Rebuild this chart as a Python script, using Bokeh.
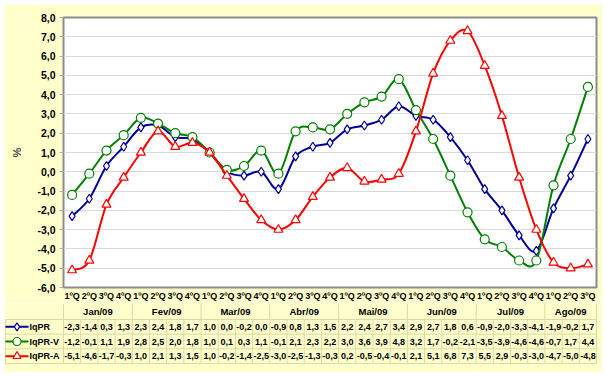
from bokeh.plotting import figure
from bokeh.models import Range1d, FixedTicker, ColumnDataSource
from bokeh.layouts import column
from bokeh.embed import file_html
from bokeh.resources import INLINE
from bokeh.core.properties import value

months = ["Jan/09", "Fev/09", "Mar/09", "Abr/09", "Mai/09", "Jun/09", "Jul/09", "Ago/09"]
quarters = ["1ºQ", "2ºQ", "3ºQ", "4ºQ"]
periods = [(m, q) for m in months for q in quarters][:31]

series_names = ["IqPR", "IqPR-V", "IqPR-A"]
iqpr = [-2.3, -1.4, 0.3, 1.3, 2.3, 2.4, 1.8, 1.7, 1.0, 0.0, -0.2, 0.0, -0.9, 0.8, 1.3, 1.5,
        2.2, 2.4, 2.7, 3.4, 2.9, 2.7, 1.8, 0.6, -0.9, -2.0, -3.3, -4.1, -1.9, -0.2, 1.7]
iqpr_v = [-1.2, -0.1, 1.1, 1.9, 2.8, 2.5, 2.0, 1.8, 1.0, 0.1, 0.3, 1.1, -0.1, 2.1, 2.3, 2.2,
          3.0, 3.6, 3.9, 4.8, 3.2, 1.7, -0.2, -2.1, -3.5, -3.9, -4.6, -4.6, -0.7, 1.7, 4.4]
iqpr_a = [-5.1, -4.6, -1.7, -0.3, 1.0, 2.1, 1.3, 1.5, 1.0, -0.2, -1.4, -2.5, -3.0, -2.5, -1.3, -0.3,
          0.2, -0.5, -0.4, -0.1, 2.1, 5.1, 6.8, 7.3, 5.5, 2.9, -0.3, -3.0, -4.7, -5.0, -4.8]
y_ticks = [-6, -5, -4, -3, -2, -1, 0, 1, 2, 3, 4, 5, 6, 7, 8]

series = [iqpr, iqpr_v, iqpr_a]
colors = ["#000099", "#008000", "#FF0000"]
markers = ["diamond", "circle", "triangle"]

BG = "#FFFFCC"
GRIDC = "#DDD8A4"
FONT = "Liberation Sans"
N = len(periods)


def fmt(v):
    return ("%.1f" % v).replace(".", ",")


# category centres on the chart's x scale
xc = [i + 0.5 for i in range(N)]

# ---------------- top chart ----------------
p = figure(width=598, height=299, x_range=Range1d(0, N), y_range=Range1d(-6, 8),
           output_backend="svg", toolbar_location=None,
           min_border_left=59, min_border_right=6, min_border_top=13, min_border_bottom=16)
p.margin = (4, 4, 0, 4)
p.frame_align = False
p.background_fill_color = "white"
p.border_fill_color = BG
p.outline_line_color = "#8C8C8C"
p.outline_line_width = 2

p.yaxis.ticker = FixedTicker(ticks=y_ticks)
p.yaxis.major_label_overrides = {t: fmt(t) for t in y_ticks}
p.yaxis.major_label_text_font = FONT
p.yaxis.major_label_text_font_style = "bold"
p.yaxis.major_label_text_font_size = "10.5px"
p.yaxis.major_label_text_color = "black"
p.yaxis.major_label_standoff = 4
p.yaxis.major_tick_out = 4
p.yaxis.major_tick_in = 0
p.yaxis.major_tick_line_color = "#B0B0B0"
p.yaxis.minor_tick_line_color = None
p.yaxis.axis_line_color = "#8C8C8C"
p.yaxis.axis_label = "%"
p.yaxis.axis_label_text_font = FONT
p.yaxis.axis_label_text_font_style = "bold"
p.yaxis.axis_label_text_font_size = "11px"
p.yaxis.axis_label_standoff = 11
p.ygrid.grid_line_color = "#DADADA"
p.ygrid.ticker = FixedTicker(ticks=y_ticks)
p.xgrid.grid_line_color = None

xa = p.xaxis[0]
xa.ticker = FixedTicker(ticks=xc)
xa.major_label_overrides = {x: q for x, (m, q) in zip(xc, periods)}
xa.major_label_text_font = FONT
xa.major_label_text_font_style = "bold"
xa.major_label_text_font_size = "9px"
xa.major_label_text_color = "black"
xa.major_label_standoff = 3
xa.major_tick_out = 0
xa.major_tick_in = 0
xa.minor_tick_out = 0
xa.minor_tick_in = 0
xa.major_tick_line_color = None
xa.minor_tick_line_color = None
xa.axis_line_color = None

for vals, c, mk in zip(series, colors, markers):
    n = len(vals)
    x0, y0, x1, y1, cx0, cy0, cx1, cy1 = [], [], [], [], [], [], [], []
    for i in range(n - 1):
        im = max(i - 1, 0)
        ip2 = min(i + 2, n - 1)
        x0.append(xc[i]); y0.append(vals[i])
        x1.append(xc[i + 1]); y1.append(vals[i + 1])
        cx0.append(xc[i] + (xc[i + 1] - xc[im]) / 6.0)
        cy0.append(vals[i] + (vals[i + 1] - vals[im]) / 6.0)
        cx1.append(xc[i + 1] - (xc[ip2] - xc[i]) / 6.0)
        cy1.append(vals[i + 1] - (vals[ip2] - vals[i]) / 6.0)
    p.bezier(x0=x0, y0=y0, x1=x1, y1=y1, cx0=cx0, cy0=cy0, cx1=cx1, cy1=cy1,
             line_color=c, line_width=2)
    src = ColumnDataSource(dict(x=xc[:n], y=vals))
    p.scatter(x="x", y="y", source=src, marker=mk, size=9, line_color=c,
              fill_color="white", line_width=1.2)

# ---------------- month row + data table ----------------
u = 533.0 / N            # pixels per category in the chart above
row_h = 14.67
tb = figure(width=598, height=69,
            x_range=Range1d(-59.0 / u, N + 6.0 / u),
            y_range=Range1d(-53.0 / row_h, 16.0 / row_h),
            output_backend="svg", toolbar_location=None,
            x_axis_location=None, y_axis_location=None,
            min_border_left=0, min_border_right=0, min_border_top=0, min_border_bottom=0)
tb.margin = (0, 4, 5, 4)
tb.frame_align = False
tb.background_fill_color = BG
tb.border_fill_color = BG
tb.outline_line_color = None
tb.xgrid.grid_line_color = None
tb.ygrid.grid_line_color = None


def px(page_x):
    return (page_x - 63.0) / u


top = 16.0 / row_h
x_left = px(5)
# horizontal rules
tb.segment(x0=[x_left] * 4, y0=[0, -1, -2, -3], x1=[N] * 4, y1=[0, -1, -2, -3],
           line_color=GRIDC, line_width=1)
# vertical rules in data rows
vx = [x_left] + list(range(0, N + 1))
tb.segment(x0=vx, y0=[0] * len(vx), x1=vx, y1=[-3] * len(vx), line_color=GRIDC, line_width=1)
# month separators
bounds = sorted(set([0, N] + [i for i in range(N) if i % 4 == 0]))
tb.segment(x0=bounds, y0=[top] * len(bounds), x1=bounds, y1=[0] * len(bounds),
           line_color=GRIDC, line_width=1)
# month labels
mcent = []
for k, m in enumerate(months):
    a = k * 4
    b = min(a + 4, N)
    mcent.append((a + b) / 2.0)
tb.text(x=mcent, y=[0.52] * len(months), text=months, text_font=value(FONT),
        text_font_style="bold", text_font_size="9.5px", text_align="center",
        text_baseline="middle", text_color="black")

for r, (name, vals, c, mk) in enumerate(zip(series_names, series, colors, markers)):
    yc = -(r + 0.5)
    tb.segment(x0=[px(5)], y0=[yc], x1=[px(28)], y1=[yc], line_color=c, line_width=2)
    tb.scatter(x=[px(16.5)], y=[yc], marker=mk, size=8, line_color=c,
               fill_color="white", line_width=1.2)
    tb.text(x=[px(29)], y=[yc], text=[name], text_font=value(FONT),
            text_font_style="bold", text_font_size="9px", text_align="left",
            text_baseline="middle", text_color="black")
    tb.text(x=xc[:len(vals)], y=[yc] * len(vals),
            text=[fmt(v) for v in vals], text_font=value(FONT), text_font_style="bold",
            text_font_size="9px", text_align="center", text_baseline="middle",
            text_color="black")

layout = column(p, tb, spacing=0)
open("out.html", "w").write(file_html(layout, INLINE))
